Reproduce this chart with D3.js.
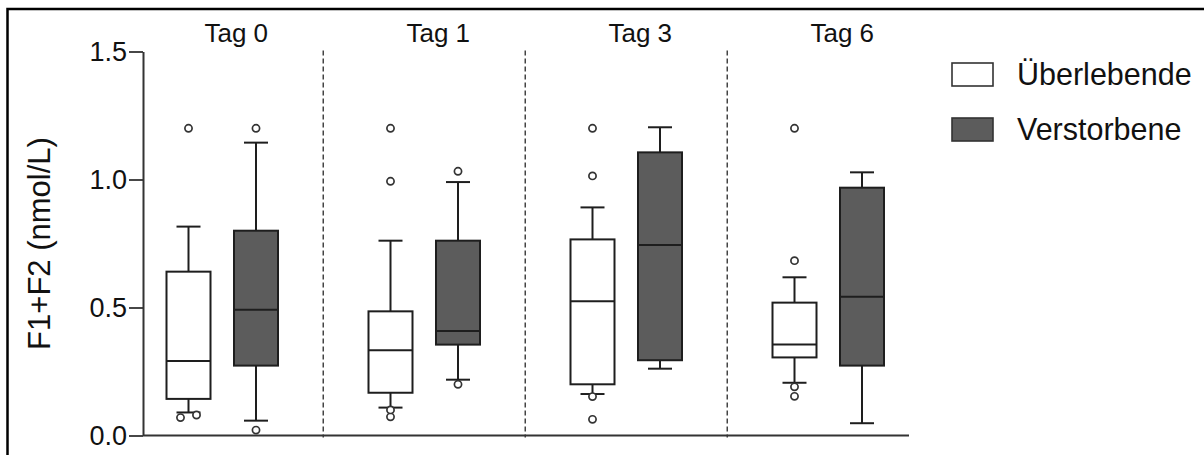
<!DOCTYPE html>
<html>
<head>
<meta charset="utf-8">
<script src="https://cdn.jsdelivr.net/npm/d3@7"></script>
<style>
  body { margin: 0; background: #fff; }
  svg { display: block; font-family: "Liberation Sans", Arial, sans-serif; }
</style>
</head>
<body>
<svg id="chart" width="1204" height="455"></svg>
<script>
// data
const categories = ["Tag 0", "Tag 1", "Tag 3", "Tag 6"];
const series = ["Überlebende", "Verstorbene"];
const yTicks = [0, 0.5, 1.0, 1.5];

const survMin = [0.09, 0.109, 0.162, 0.206];
const survQ1 = [0.143, 0.167, 0.200, 0.305];
const survMed = [0.291, 0.333, 0.524, 0.355];
const survQ3 = [0.640, 0.485, 0.766, 0.519];
const survMax = [0.816, 0.761, 0.891, 0.618];
const survOut = [[1.2, 0.08, 0.07], [1.2, 0.993, 0.10, 0.073], [1.2, 1.014, 0.152, 0.063], [1.2, 0.683, 0.19, 0.153]];

const deadMin = [0.058, 0.218, 0.261, 0.048];
const deadQ1 = [0.273, 0.355, 0.294, 0.273];
const deadMed = [0.491, 0.408, 0.744, 0.542];
const deadQ3 = [0.800, 0.761, 1.106, 0.968];
const deadMax = [1.144, 0.990, 1.204, 1.028];
const deadOut = [[1.2, 0.021], [1.032, 0.20], [], []];

const fills = ["#ffffff", "#5c5c5c"];

const boxes = [];
categories.forEach((c, i) => {
    boxes.push({cat: c, ser: series[0], min: survMin[i], q1: survQ1[i], med: survMed[i], q3: survQ3[i], max: survMax[i], out: survOut[i]});
    boxes.push({cat: c, ser: series[1], min: deadMin[i], q1: deadQ1[i], med: deadMed[i], q3: deadQ3[i], max: deadMax[i], out: deadOut[i]});
});

const svg = d3.select("#chart");
const axisX = 143, plotRight = 909;

const y = d3.scaleLinear().domain([0, 1.5]).range([435.5, 51.5]);
const x0 = d3.scaleBand().domain(categories).range([121.25, 929.25]).padding(0);
const bw = x0.bandwidth();
const x1 = d3.scalePoint().domain(series).range([bw / 2 - 33.75, bw / 2 + 33.75]);
const boxW = 44, capW = 22;
const color = d3.scaleOrdinal().domain(series).range(fills);

// outer frame (top + left only, as cropped)
svg.append("path")
    .attr("d", "M7.5,455V9H1204")
    .attr("fill", "none").attr("stroke", "#000").attr("stroke-width", 2.5);

// dashed separators between days
svg.append("g").selectAll("line")
    .data(categories.slice(1))
    .join("line")
    .attr("x1", d => x0(d)).attr("x2", d => x0(d))
    .attr("y1", y(1.5) - 1).attr("y2", y(0) + 2)
    .attr("stroke", "#444").attr("stroke-width", 1.5)
    .attr("stroke-dasharray", "5,3");

// y axis
const yAxis = svg.append("g")
    .attr("transform", `translate(${axisX},0)`)
    .call(d3.axisLeft(y).tickValues(yTicks).tickFormat(d3.format(".1f")).tickSize(14).tickPadding(2).tickSizeOuter(0));
yAxis.select(".domain").attr("stroke", "#333").attr("stroke-width", 2);
yAxis.selectAll(".tick line").attr("stroke", "#333").attr("stroke-width", 1.8);
yAxis.selectAll(".tick text")
    .attr("font-size", 27).attr("fill", "#111")
    .attr("font-family", "'Liberation Sans', Arial, sans-serif");

// x axis line
svg.append("line")
    .attr("x1", axisX).attr("x2", plotRight)
    .attr("y1", y(0)).attr("y2", y(0))
    .attr("stroke", "#333").attr("stroke-width", 2);

// y label
svg.append("text")
    .attr("transform", `translate(50,${(y(0) + y(1.5)) / 2}) rotate(-90)`)
    .attr("text-anchor", "middle")
    .attr("font-size", 31).attr("fill", "#111")
    .text("F1+F2 (nmol/L)");

// day titles
svg.append("g").selectAll("text")
    .data(categories)
    .join("text")
    .attr("x", d => x0(d) + bw / 2 + 14)
    .attr("y", 42)
    .attr("text-anchor", "middle")
    .attr("font-size", 26).attr("fill", "#111")
    .text(d => d);

// boxes
const g = svg.append("g").selectAll("g")
    .data(boxes)
    .join("g")
    .attr("transform", d => `translate(${x0(d.cat) + x1(d.ser)},0)`);

const stroke = "#1e1e1e", sw = 2;

g.append("line")
    .attr("x1", 0).attr("x2", 0)
    .attr("y1", d => y(d.max)).attr("y2", d => y(d.q3))
    .attr("stroke", stroke).attr("stroke-width", sw);
g.append("line")
    .attr("x1", 0).attr("x2", 0)
    .attr("y1", d => y(d.q1)).attr("y2", d => y(d.min))
    .attr("stroke", stroke).attr("stroke-width", sw);
g.append("line")
    .attr("x1", -capW / 2 - 1).attr("x2", capW / 2 + 1)
    .attr("y1", d => y(d.max)).attr("y2", d => y(d.max))
    .attr("stroke", stroke).attr("stroke-width", sw);
g.append("line")
    .attr("x1", -capW / 2 - 1).attr("x2", capW / 2 + 1)
    .attr("y1", d => y(d.min)).attr("y2", d => y(d.min))
    .attr("stroke", stroke).attr("stroke-width", sw);
g.append("rect")
    .attr("x", -boxW / 2).attr("width", boxW)
    .attr("y", d => y(d.q3))
    .attr("height", d => y(d.q1) - y(d.q3))
    .attr("fill", d => color(d.ser))
    .attr("stroke", stroke).attr("stroke-width", sw);
g.append("line")
    .attr("x1", -boxW / 2).attr("x2", boxW / 2)
    .attr("y1", d => y(d.med)).attr("y2", d => y(d.med))
    .attr("stroke", stroke).attr("stroke-width", sw);

// outliers: near-equal values are spread sideways
function spread(vals) {
    const s = vals.slice().sort((a, b) => a - b);
    return s.map((v, i) => {
        const prevClose = i > 0 && Math.abs(v - s[i - 1]) < 0.015;
        const nextClose = i < s.length - 1 && Math.abs(s[i + 1] - v) < 0.015;
        return {v, dx: nextClose ? -8 : prevClose ? 8 : 0};
    });
}
g.selectAll("circle")
    .data(d => spread(d.out))
    .join("circle")
    .attr("cx", d => d.dx)
    .attr("cy", d => y(d.v))
    .attr("r", 3.6)
    .attr("fill", "#fff")
    .attr("stroke", "#333").attr("stroke-width", 1.7);

// legend
const leg = svg.append("g").selectAll("g")
    .data(series)
    .join("g")
    .attr("transform", (d, i) => `translate(952,${63 + i * 55})`);
leg.append("rect")
    .attr("width", 41).attr("height", 23)
    .attr("fill", d => color(d))
    .attr("stroke", "#333").attr("stroke-width", 1.6);
leg.append("text")
    .attr("x", 65).attr("y", 22)
    .attr("font-size", 30.5).attr("fill", "#111")
    .text(d => d);
</script>
</body>
</html>
